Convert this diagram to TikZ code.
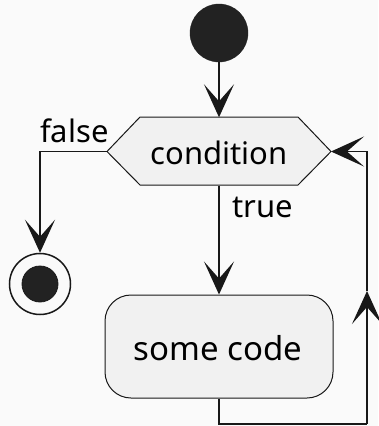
\documentclass[tikz,border=0pt]{standalone}
\usepackage{fontspec}
\setmainfont{Noto Sans}
\usetikzlibrary{arrows.meta,calc}
\definecolor{bg}{HTML}{FAFAFA}
\definecolor{ln}{HTML}{181818}
\definecolor{boxfill}{HTML}{F1F1F1}
\definecolor{dot}{HTML}{222222}
\tikzset{
  conn/.style={draw=ln, line width=1.5pt},
  tip/.style={-{Stealth[length=33pt, width=30pt, inset=17pt]}},
  lbl/.style={font=\fontsize{31}{36}\selectfont, text=black, inner sep=0pt},
  action/.style={draw=ln, line width=1pt, fill=boxfill, rounded corners=26pt,
    minimum width=228pt, minimum height=103pt, inner sep=0pt,
    font=\fontsize{33}{38}\selectfont},
}
\begin{document}
\begin{tikzpicture}[x=1pt,y=-1pt]
\fill[bg] (0,0) rectangle (378,426);
\useasboundingbox (0,0) rectangle (378,426);
% start
\node[circle, fill=dot, draw=dot, minimum size=58pt, inner sep=0pt] (start) at (219,33) {};
% decision hexagon
\coordinate (condL) at (107,151.5);
\coordinate (condR) at (331,151.5);
\filldraw[fill=boxfill, draw=ln, line width=1pt] (140,117) -- (298,117) -- (condR) -- (298,185) -- (140,185) -- (condL) -- cycle;
\node[lbl, minimum width=158pt, minimum height=68pt] (cond) at (219,151.5) {};
\node[lbl, anchor=base] (condtext) at (219,164) {condition};
% end
\node[circle, draw=ln, line width=1.5pt, fill=bg, minimum size=61pt, inner sep=0pt] (stop) at (40,284) {};
\node[circle, fill=dot, draw=ln, line width=0.8pt, minimum size=36pt, inner sep=0pt] (stopin) at (40,284) {};
% action
\node[action] (code) at (219,346.5) {};
\node[font=\fontsize{33}{38}\selectfont, inner sep=0pt, anchor=base] (codetext) at (218,360) {some code};
% connectors
\draw[conn, tip] (start) -- (cond.north);
\draw[conn, tip] (condL) -| (stop.north);
\draw[conn, tip] (cond.south) -- (code.north);
\coordinate (lb) at (219,424);
\coordinate (rb) at (367,424);
\coordinate (mid) at (367,291);
\coordinate (rt) at (367,151.5);
\draw[conn] (code.south) -- (lb) -- (rb);
\draw[conn, tip] (rb) -- (mid);
\draw[conn, tip] (mid) -- (rt) -- (condR);
% labels
\node[lbl, anchor=base west] (lfalse) at (40,142) {false};
\node[lbl, anchor=base west] (ltrue) at (232,217) {true};
\end{tikzpicture}
\end{document}
